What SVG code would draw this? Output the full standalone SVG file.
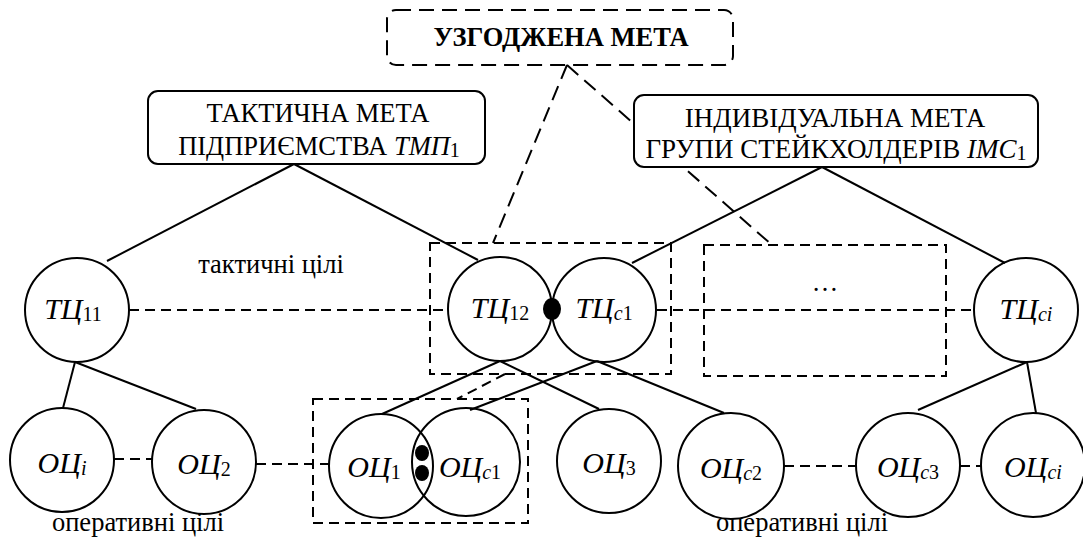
<svg xmlns="http://www.w3.org/2000/svg" width="1083" height="540" viewBox="0 0 1083 540" font-family="Liberation Serif, Times New Roman, serif">
<style>
.t{font-family:'Liberation Serif','Times New Roman',serif;fill:#000}
.box{font-size:26.5px}
.lbl{font-size:26.5px}
.n{font-size:30px;font-style:italic}
.sd{font-size:20px;font-style:normal}
.si{font-size:20px;font-style:italic}
.it{font-style:italic}
.sol{stroke:#000;stroke-width:2;fill:none}
.dsh{stroke:#000;stroke-width:2;fill:none;stroke-dasharray:10 6}
.dsh2{stroke:#000;stroke-width:2;fill:none;stroke-dasharray:15 8}
.c{stroke:#000;stroke-width:2;fill:none}
.frame{stroke:#000;stroke-width:2;fill:#fff}
</style>
<rect width="1083" height="540" fill="#fff"/>
<g id="connectors">
  <line class="dsh2" x1="567" y1="65" x2="493" y2="243"/>
  <line class="dsh2" x1="567" y1="65" x2="772" y2="245"/>
  <line class="sol" x1="294" y1="164" x2="107" y2="261"/>
  <line class="sol" x1="294" y1="164" x2="478" y2="260"/>
  <line class="sol" x1="822" y1="167" x2="632" y2="263"/>
  <line class="sol" x1="822" y1="167" x2="1005" y2="263"/>
  <line class="sol" x1="75" y1="362" x2="63" y2="408"/>
  <line class="sol" x1="75" y1="362" x2="196" y2="409"/>
  <line class="sol" x1="500" y1="361" x2="382" y2="414"/>
  <line class="sol" x1="500" y1="361" x2="599" y2="409"/>
  <line class="sol" x1="597" y1="361" x2="470" y2="410"/>
  <line class="sol" x1="597" y1="361" x2="724" y2="413"/>
  <line class="sol" x1="1027" y1="362" x2="918" y2="410"/>
  <line class="sol" x1="1027" y1="362" x2="1036" y2="413"/>
  <line class="dsh" x1="129" y1="310" x2="448" y2="310"/>
  <line class="dsh" x1="657" y1="310" x2="974" y2="310"/>
  <line class="dsh" x1="114" y1="459" x2="152" y2="459"/>
  <line class="dsh" x1="256" y1="464" x2="329" y2="464"/>
  <line class="dsh" x1="784" y1="466" x2="856" y2="466"/>
  <line class="dsh" x1="960" y1="466" x2="981" y2="466"/>
  <line class="dsh" x1="505" y1="374" x2="457" y2="399"/>
</g>
<g id="group-tc">
  <rect class="dsh" x="430" y="243" width="241" height="131"/>
</g>
<g id="group-dots">
  <rect class="dsh" x="704" y="245" width="242" height="131"/>
  <text class="t lbl" x="825" y="291" text-anchor="middle">…</text>
</g>
<g id="group-oc">
  <rect class="dsh" x="313" y="399" width="215" height="124"/>
</g>
<g id="agreed-goal">
  <rect class="dsh2" x="387" y="10" width="346" height="55" rx="9" fill="#fff"/>
  <text class="t box" x="561" y="46" text-anchor="middle" font-weight="bold">УЗГОДЖЕНА МЕТА</text>
</g>
<g id="tactical-goal">
  <rect class="frame" x="148" y="91" width="337" height="73" rx="10"/>
  <text class="t box" x="318" y="122" text-anchor="middle">ТАКТИЧНА МЕТА</text>
  <text class="t box" x="319" y="155" text-anchor="middle">ПІДПРИЄМСТВА <tspan class="it">ТМП</tspan><tspan class="sd" dy="2">1</tspan></text>
</g>
<g id="individual-goal">
  <rect class="frame" x="634" y="95" width="404" height="72" rx="10"/>
  <text class="t" font-size="27" x="835" y="127" text-anchor="middle">ІНДИВІДУАЛЬНА МЕТА</text>
  <text class="t" font-size="27" x="836" y="158" text-anchor="middle">ГРУПИ СТЕЙКХОЛДЕРІВ <tspan class="it">ІМС</tspan><tspan class="sd" dy="2">1</tspan></text>
</g>
<g id="label-tactical">
  <text class="t lbl" x="271" y="273" text-anchor="middle">тактичні цілі</text>
</g>
<g id="tc11">
  <circle class="c" cx="77" cy="310" r="52"/>
  <text class="t n" x="73" y="319" text-anchor="middle">ТЦ<tspan class="sd" dy="2">11</tspan></text>
</g>
<g id="tc12">
  <circle class="c" cx="500" cy="309" r="52"/>
  <text class="t n" x="500" y="318" text-anchor="middle">ТЦ<tspan class="sd" dy="2">12</tspan></text>
</g>
<g id="tcc1">
  <circle class="c" cx="604" cy="310" r="52"/>
  <text class="t n" x="604" y="318" text-anchor="middle">ТЦ<tspan class="si" dy="2">c</tspan><tspan class="sd">1</tspan></text>
</g>
<g id="tc-join">
  <ellipse cx="552" cy="309" rx="9" ry="11" fill="#000"/>
</g>
<g id="tcci">
  <circle class="c" cx="1026" cy="310" r="52"/>
  <text class="t n" x="1026" y="319" text-anchor="middle">ТЦ<tspan class="si" dy="2">ci</tspan></text>
</g>
<g id="oci">
  <circle class="c" cx="62" cy="460" r="52"/>
  <text class="t n" x="62" y="473" text-anchor="middle">ОЦ<tspan class="si" dy="2">i</tspan></text>
</g>
<g id="oc2">
  <circle class="c" cx="204" cy="462" r="52"/>
  <text class="t n" x="204" y="474" text-anchor="middle">ОЦ<tspan class="sd" dy="2">2</tspan></text>
</g>
<g id="oc1">
  <circle class="c" cx="381" cy="466" r="52"/>
  <text class="t n" x="374" y="477" text-anchor="middle">ОЦ<tspan class="sd" dy="2">1</tspan></text>
</g>
<g id="occ1">
  <circle class="c" cx="466" cy="462" r="54"/>
  <text class="t n" x="470" y="477" text-anchor="middle">ОЦ<tspan class="si" dy="2">c</tspan><tspan class="sd">1</tspan></text>
</g>
<g id="oc-join">
  <ellipse cx="422" cy="453" rx="7" ry="8" fill="#000"/>
  <ellipse cx="422" cy="473" rx="7" ry="8" fill="#000"/>
</g>
<g id="oc3">
  <circle class="c" cx="609" cy="461" r="52"/>
  <text class="t n" x="609" y="473" text-anchor="middle">ОЦ<tspan class="sd" dy="2">3</tspan></text>
</g>
<g id="occ2">
  <circle class="c" cx="731" cy="466" r="53"/>
  <text class="t n" x="731" y="478" text-anchor="middle">ОЦ<tspan class="si" dy="2">c</tspan><tspan class="sd">2</tspan></text>
</g>
<g id="occ3">
  <circle class="c" cx="908" cy="465" r="52"/>
  <text class="t n" x="908" y="477" text-anchor="middle">ОЦ<tspan class="si" dy="2">c</tspan><tspan class="sd">3</tspan></text>
</g>
<g id="occi">
  <circle class="c" cx="1033" cy="465" r="52"/>
  <text class="t n" x="1033" y="477" text-anchor="middle">ОЦ<tspan class="si" dy="2">ci</tspan></text>
</g>
<g id="label-operative">
  <text class="t lbl" x="138" y="531" text-anchor="middle">оперативні цілі</text>
  <text class="t lbl" x="802" y="531" text-anchor="middle">оперативні цілі</text>
</g>
</svg>
